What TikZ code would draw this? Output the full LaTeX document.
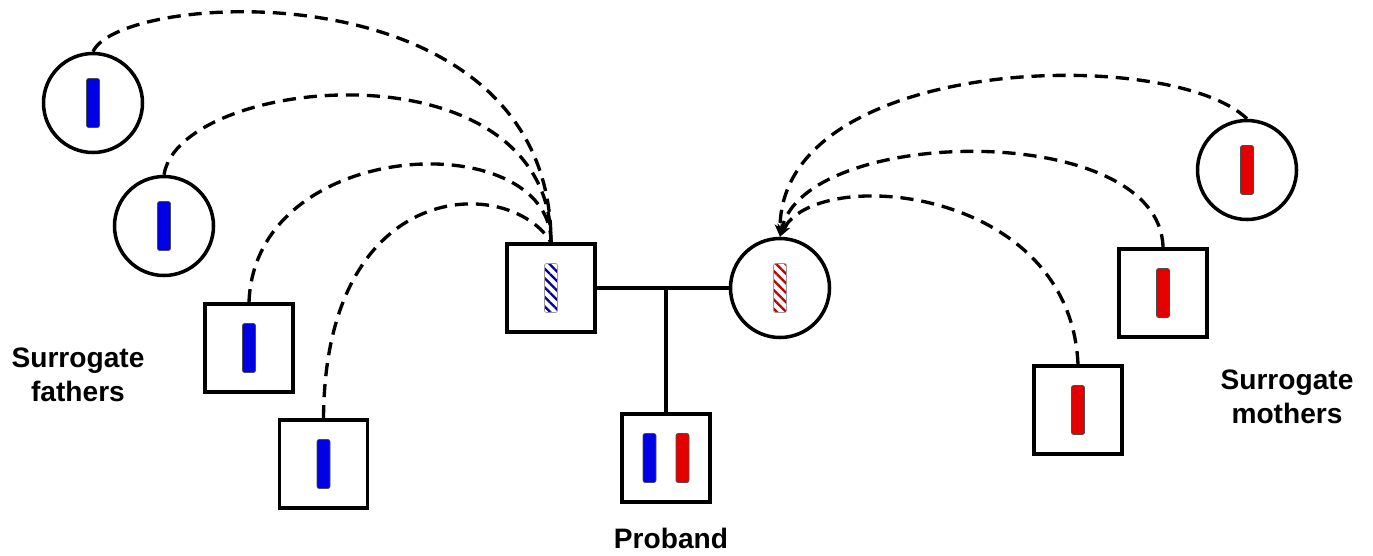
\documentclass[tikz,border=0pt]{standalone}
\usepackage{fontspec}
\setmainfont{Liberation Sans}
\usetikzlibrary{arrows.meta,patterns.meta}
\tikzset{
  ind/.style={draw,line width=2pt,inner sep=0pt,fill=white},
  malebox/.style={ind,rectangle,minimum size=1.76cm},
  femalebox/.style={ind,circle,minimum size=1.98cm},
  chrom/.style={draw=black!70,line width=0.4pt,rounded corners=1.2pt,minimum width=0.26cm,minimum height=0.98cm,inner sep=0pt},
  patbar/.style={chrom,fill=blue!90!black},
  matbar/.style={chrom,fill=red!90!black},
  pathatch/.style={chrom,draw=black!40,pattern={Lines[angle=-45,distance=3.8pt,line width=1.3pt]},pattern color=blue!60!black},
  mathatch/.style={chrom,draw=black!40,pattern={Lines[angle=-45,distance=3.8pt,line width=1.3pt]},pattern color=red!75!black},
  surrlink/.style={line width=1.9pt,dash pattern=on 7.5pt off 4.5pt},
  lbl/.style={font=\bfseries\fontsize{16}{19.5}\selectfont,align=center}
}
\newcommand{\malenode}[4]{\node[malebox] (#1) at (#2,#3) {}; \node[#4] (#1bar) at (#1) {};}
\newcommand{\femalenode}[4]{\node[femalebox] (#1) at (#2,#3) {}; \node[#4] (#1bar) at (#1) {};}
\newcommand{\linkF}[3]{\draw[surrlink] (#1.north) .. controls (#2) and (#3) .. (father.north);}
\newcommand{\linkM}[3]{\draw[surrlink,-{Stealth[length=7pt,width=6pt,inset=2pt]}] (#1.north) .. controls (#2) and (#3) .. (mother.north);}

\begin{document}
\begin{tikzpicture}
    \useasboundingbox (0,0) rectangle (27.46,11.1);
    \malenode{father}{11.02}{5.34}{pathatch}    \femalenode{mother}{15.6}{5.34}{mathatch}
    \node[malebox] (proband) at (13.32,1.94) {};
    \node[patbar] (probandpat) at ([xshift=-0.33cm]proband) {}; \node[matbar] (probandmat) at ([xshift=0.33cm]proband) {};
    \draw[line width=2pt] (father) -- (mother); \draw[line width=2pt] (proband) -- (proband |- father);
    \femalenode{SF1}{1.86}{9.04}{patbar}    \femalenode{SF2}{3.28}{6.58}{patbar}
    \malenode{SF3}{4.98}{4.14}{patbar}    \malenode{SF4}{6.47}{1.82}{patbar}
    \femalenode{SM1}{24.94}{7.7}{matbar}    \malenode{SM2}{23.26}{5.24}{matbar}
    \malenode{SM3}{21.56}{2.9}{matbar}
    \linkF{SF1}{2.4,11.3}{11.02,11.8}\linkF{SF2}{3.6,9.6}{11.02,10.3}
    \linkF{SF3}{5.1,8.4}{11.02,8.6}\linkF{SF4}{6.5,7.6}{10.2,7.6}
    \linkM{SM1}{23.4,10.2}{15.6,10.0}\linkM{SM2}{23.2,8.7}{16.1,8.6}
    \linkM{SM3}{21.4,7.4}{16.3,7.8}
    \node[lbl] (fathers) at (1.56,3.6) {Surrogate\\fathers};
    \node[lbl] (mothers) at (25.74,3.16) {Surrogate\\mothers};
    \node[lbl] (probandlbl) at (13.42,0.34) {Proband};
\end{tikzpicture}
\end{document}
